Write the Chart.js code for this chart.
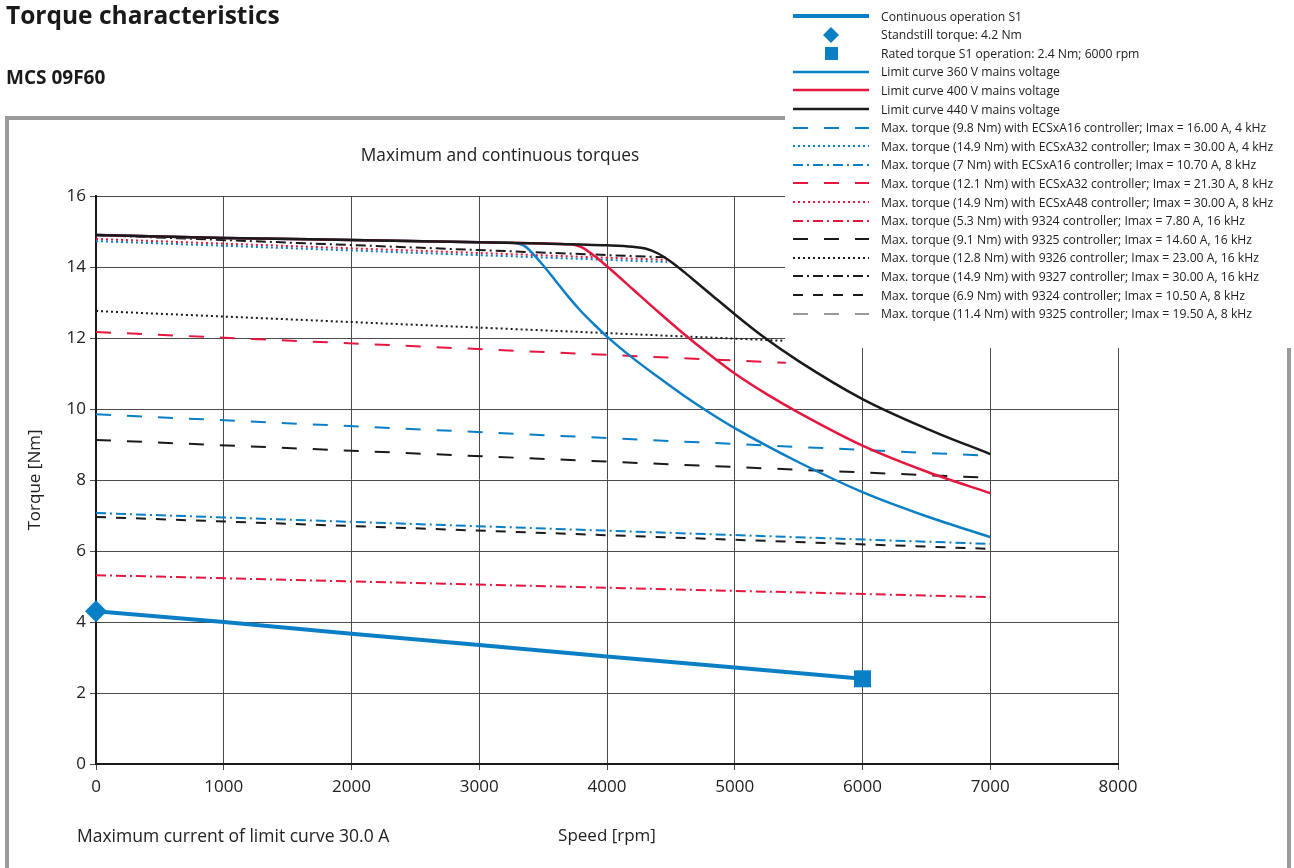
<!DOCTYPE html>
<html>
<head>
<meta charset="utf-8">
<script src="https://cdn.jsdelivr.net/npm/chart.js@4.4.1/dist/chart.umd.min.js"></script>
<style>
  body { margin: 0; background: #fff; font-family: 'Open Sans', sans-serif; color: #222; }
  #page { position: relative; width: 1294px; height: 868px; overflow: hidden; }
  #frame { position: absolute; left: 5px; top: 116px; width: 1278px; height: 800px; border: 4px solid #9b9b9b; }
  #chart { position: absolute; left: 0; top: 0; }
  h1 { position: absolute; left: 6px; top: -2px; margin: 0; font-size: 24.5px; font-weight: 700; color: #1a1a1a; }
  h2 { position: absolute; left: 6px; top: 64px; margin: 0; font-size: 19px; font-weight: 700; color: #1a1a1a; }
  .note { position: absolute; color: #222; white-space: nowrap; }
  #legend { position: absolute; left: 785px; top: 0; width: 509px; height: 348px; background: #fff; }
  .row { position: absolute; left: 0; height: 18px; display: flex; align-items: center; }
  .row canvas { margin-left: 6px; }
  .row span { margin-left: 10px; font-size: 12.2px; white-space: nowrap; color: #222; }
</style>
</head>
<body>
<div id="page">
  <div id="frame"></div>
  <canvas id="chart" width="1294" height="868"></canvas>
  <h1>Torque characteristics</h1>
  <h2>MCS 09F60</h2>
  <div class="note" style="left:300px; top:143px; width:400px; text-align:center; font-size:17.3px;">Maximum and continuous torques</div>
  <div class="note" style="left:77px; top:823px; font-size:17.5px;">Maximum current of limit curve 30.0 A</div>
  <div id="legend"></div>
</div>
<script>
// speeds [rpm]
const speedS1 = [0, 1000, 2000, 3000, 4000, 5000, 6000];
const torqueS1 = [4.3, 4.0, 3.67, 3.35, 3.03, 2.72, 2.4];
const standstillSpeed = [0];
const standstillTorque = [4.3];
const ratedSpeed = [6000];
const ratedTorque = [2.4];

const speed360 = [0, 1000, 2000, 3000, 3250, 3350, 3400, 3500, 3600, 3700, 3800, 3900, 4000, 4200, 4400, 4600, 4800, 5000, 5500, 6000, 6500, 7000];
const torque360 = [14.9, 14.82, 14.76, 14.7, 14.68, 14.6, 14.45, 14.05, 13.6, 13.15, 12.74, 12.38, 12.04, 11.44, 10.9, 10.38, 9.9, 9.46, 8.5, 7.66, 6.98, 6.39];
const speed400 = [0, 1000, 2000, 3000, 3500, 3700, 3750, 3800, 3900, 4000, 4200, 4400, 4600, 4800, 5000, 5250, 5500, 6000, 6500, 7000];
const torque400 = [14.9, 14.82, 14.76, 14.7, 14.66, 14.64, 14.62, 14.56, 14.32, 14.02, 13.38, 12.74, 12.12, 11.54, 11.0, 10.42, 9.9, 8.97, 8.24, 7.63];
const speed440 = [0, 1000, 2000, 3000, 3500, 4000, 4200, 4300, 4400, 4500, 4600, 4700, 4800, 5000, 5200, 5500, 6000, 6500, 7000];
const torque440 = [14.9, 14.82, 14.76, 14.7, 14.66, 14.61, 14.57, 14.52, 14.38, 14.15, 13.87, 13.57, 13.27, 12.67, 12.1, 11.35, 10.28, 9.45, 8.73];

// max torque lines per controller: [start speed, end speed] and [torque at start, torque at end]
const speedA16_4 = [0, 7000], torqueA16_4 = [9.85, 8.68];
const speedA32_4 = [0, 4470], torqueA32_4 = [14.73, 14.14];
const speedA16_8 = [0, 7000], torqueA16_8 = [7.07, 6.2];
const speedA32_8 = [0, 5400], torqueA32_8 = [12.17, 11.3];
const speedA48_8 = [0, 4470], torqueA48_8 = [14.79, 14.2];
const speed9324_16 = [0, 7000], torque9324_16 = [5.32, 4.7];
const speed9325_16 = [0, 7000], torque9325_16 = [9.13, 8.06];
const speed9326_16 = [0, 5400], torque9326_16 = [12.76, 11.92];
const speed9327_16 = [0, 4470], torque9327_16 = [14.9, 14.27];
const speed9324_8 = [0, 7000], torque9324_8 = [6.96, 6.06];
const speed9325_8 = [], torque9325_8 = [];

const xTicks = [0, 1000, 2000, 3000, 4000, 5000, 6000, 7000, 8000];
const yTicks = [0, 2, 4, 6, 8, 10, 12, 14, 16];

const BLUE = '#0a7fc6', RED = '#e5173f', BLACK = '#1a1a1a', GREY = '#9a9a9a';
const DASH = [15, 16], SHORT = [10, 10], DOT = [2, 3], DASHDOT = [10, 4, 2, 4];

function pts(xs, ys) {
  return xs.map((x, i) => ({ x, y: ys[i] }));
}

// legend order
const series = [
  { label: 'Continuous operation S1', data: pts(speedS1, torqueS1), color: BLUE, width: 4, dash: [] },
  { label: 'Standstill torque: 4.2 Nm', data: pts(standstillSpeed, standstillTorque), color: BLUE, marker: 'rectRot', r: 11 },
  { label: 'Rated torque S1 operation: 2.4 Nm; 6000 rpm', data: pts(ratedSpeed, ratedTorque), color: BLUE, marker: 'rect', r: 12 },
  { label: 'Limit curve 360 V mains voltage', data: pts(speed360, torque360), color: BLUE, width: 2.5, dash: [], smooth: true },
  { label: 'Limit curve 400 V mains voltage', data: pts(speed400, torque400), color: RED, width: 2.5, dash: [], smooth: true },
  { label: 'Limit curve 440 V mains voltage', data: pts(speed440, torque440), color: BLACK, width: 2.5, dash: [], smooth: true },
  { label: 'Max. torque (9.8 Nm) with ECSxA16 controller; Imax = 16.00 A, 4 kHz', data: pts(speedA16_4, torqueA16_4), color: BLUE, width: 2, dash: DASH },
  { label: 'Max. torque (14.9 Nm) with ECSxA32 controller; Imax = 30.00 A, 4 kHz', data: pts(speedA32_4, torqueA32_4), color: BLUE, width: 2, dash: DOT },
  { label: 'Max. torque (7 Nm) with ECSxA16 controller; Imax = 10.70 A, 8 kHz', data: pts(speedA16_8, torqueA16_8), color: BLUE, width: 2, dash: DASHDOT },
  { label: 'Max. torque (12.1 Nm) with ECSxA32 controller; Imax = 21.30 A, 8 kHz', data: pts(speedA32_8, torqueA32_8), color: RED, width: 2, dash: DASH },
  { label: 'Max. torque (14.9 Nm) with ECSxA48 controller; Imax = 30.00 A, 8 kHz', data: pts(speedA48_8, torqueA48_8), color: RED, width: 2, dash: DOT },
  { label: 'Max. torque (5.3 Nm) with 9324 controller; Imax = 7.80 A, 16 kHz', data: pts(speed9324_16, torque9324_16), color: RED, width: 2, dash: DASHDOT },
  { label: 'Max. torque (9.1 Nm) with 9325 controller; Imax = 14.60 A, 16 kHz', data: pts(speed9325_16, torque9325_16), color: BLACK, width: 2, dash: DASH },
  { label: 'Max. torque (12.8 Nm) with 9326 controller; Imax = 23.00 A, 16 kHz', data: pts(speed9326_16, torque9326_16), color: BLACK, width: 2, dash: DOT },
  { label: 'Max. torque (14.9 Nm) with 9327 controller; Imax = 30.00 A, 16 kHz', data: pts(speed9327_16, torque9327_16), color: BLACK, width: 2, dash: DASHDOT },
  { label: 'Max. torque (6.9 Nm) with 9324 controller; Imax = 10.50 A, 8 kHz', data: pts(speed9324_8, torque9324_8), color: BLACK, width: 2, dash: SHORT },
  { label: 'Max. torque (11.4 Nm) with 9325 controller; Imax = 19.50 A, 8 kHz', data: pts(speed9325_8, torque9325_8), color: GREY, width: 2, dash: DASH },
];

// Chart.js paints the first dataset on top: S1 and markers first, then 440 V, 400 V, 360 V, then controller lines
const drawOrder = [1, 2, 0, 5, 4, 3, 6, 7, 8, 9, 10, 11, 12, 13, 14, 15, 16];

const datasets = drawOrder.map(i => {
  const s = series[i];
  if (s.marker) {
    return {
      label: s.label, data: s.data, showLine: false, clip: false,
      pointStyle: s.marker, pointRadius: s.r, pointHoverRadius: s.r,
      pointBackgroundColor: s.color, pointBorderColor: s.color, pointBorderWidth: 0,
    };
  }
  return {
    label: s.label, data: s.data, showLine: true, borderColor: s.color, borderWidth: s.width,
    borderDash: s.dash, pointRadius: 0, pointHoverRadius: 0, fill: false,
    cubicInterpolationMode: s.smooth ? 'monotone' : 'default',
    borderCapStyle: 'butt', borderJoinStyle: 'round',
  };
});

const tickFont = { family: "'Open Sans', sans-serif", size: 17 };

new Chart(document.getElementById('chart'), {
  type: 'scatter',
  data: { datasets },
  options: {
    responsive: false,
    animation: false,
    layout: { padding: { left: 0, top: 196, right: 176, bottom: 0 } },
    plugins: { legend: { display: false }, tooltip: { enabled: false } },
    scales: {
      x: {
        type: 'linear', min: 0, max: 8000,
        afterBuildTicks: s => { s.ticks = xTicks.map(v => ({ value: v })); },
        afterFit: s => { s.height = 104; },
        ticks: { color: '#222', font: tickFont, padding: 7, callback: v => String(v) },
        grid: { color: '#4a4a4a', lineWidth: 1, tickLength: 6 },
        border: { color: '#1a1a1a', width: 2 },
        title: { display: true, text: 'Speed [rpm]', color: '#222', font: tickFont, padding: { bottom: 22 } },
      },
      y: {
        type: 'linear', min: 0, max: 16,
        afterBuildTicks: s => { s.ticks = yTicks.map(v => ({ value: v })); },
        afterFit: s => { s.width = 96; },
        ticks: { color: '#222', font: tickFont, padding: 4, callback: v => String(v) },
        grid: { color: '#4a4a4a', lineWidth: 1, tickLength: 6 },
        border: { color: '#1a1a1a', width: 2 },
        title: { display: true, text: 'Torque [Nm]', color: '#222', font: tickFont, padding: { top: 25 } },
      },
    },
  },
});

// html legend with drawn samples
const legendEl = document.getElementById('legend');
series.forEach((s, i) => {
  const row = document.createElement('div');
  row.className = 'row';
  row.style.top = (7 + i * 18.6) + 'px';
  const c = document.createElement('canvas');
  c.width = 80; c.height = 18;
  const g = c.getContext('2d');
  g.fillStyle = s.color;
  g.strokeStyle = s.color;
  if (s.marker === 'rectRot') {
    g.beginPath();
    g.moveTo(40, 1); g.lineTo(48, 9); g.lineTo(40, 17); g.lineTo(32, 9);
    g.closePath(); g.fill();
  } else if (s.marker === 'rect') {
    g.fillRect(34, 3, 13, 13);
  } else {
    g.lineWidth = s.width;
    g.setLineDash(s.dash);
    g.beginPath();
    g.moveTo(2, 9); g.lineTo(78, 9);
    g.stroke();
  }
  const t = document.createElement('span');
  t.textContent = s.label;
  row.appendChild(c);
  row.appendChild(t);
  legendEl.appendChild(row);
});
</script>
</body>
</html>
